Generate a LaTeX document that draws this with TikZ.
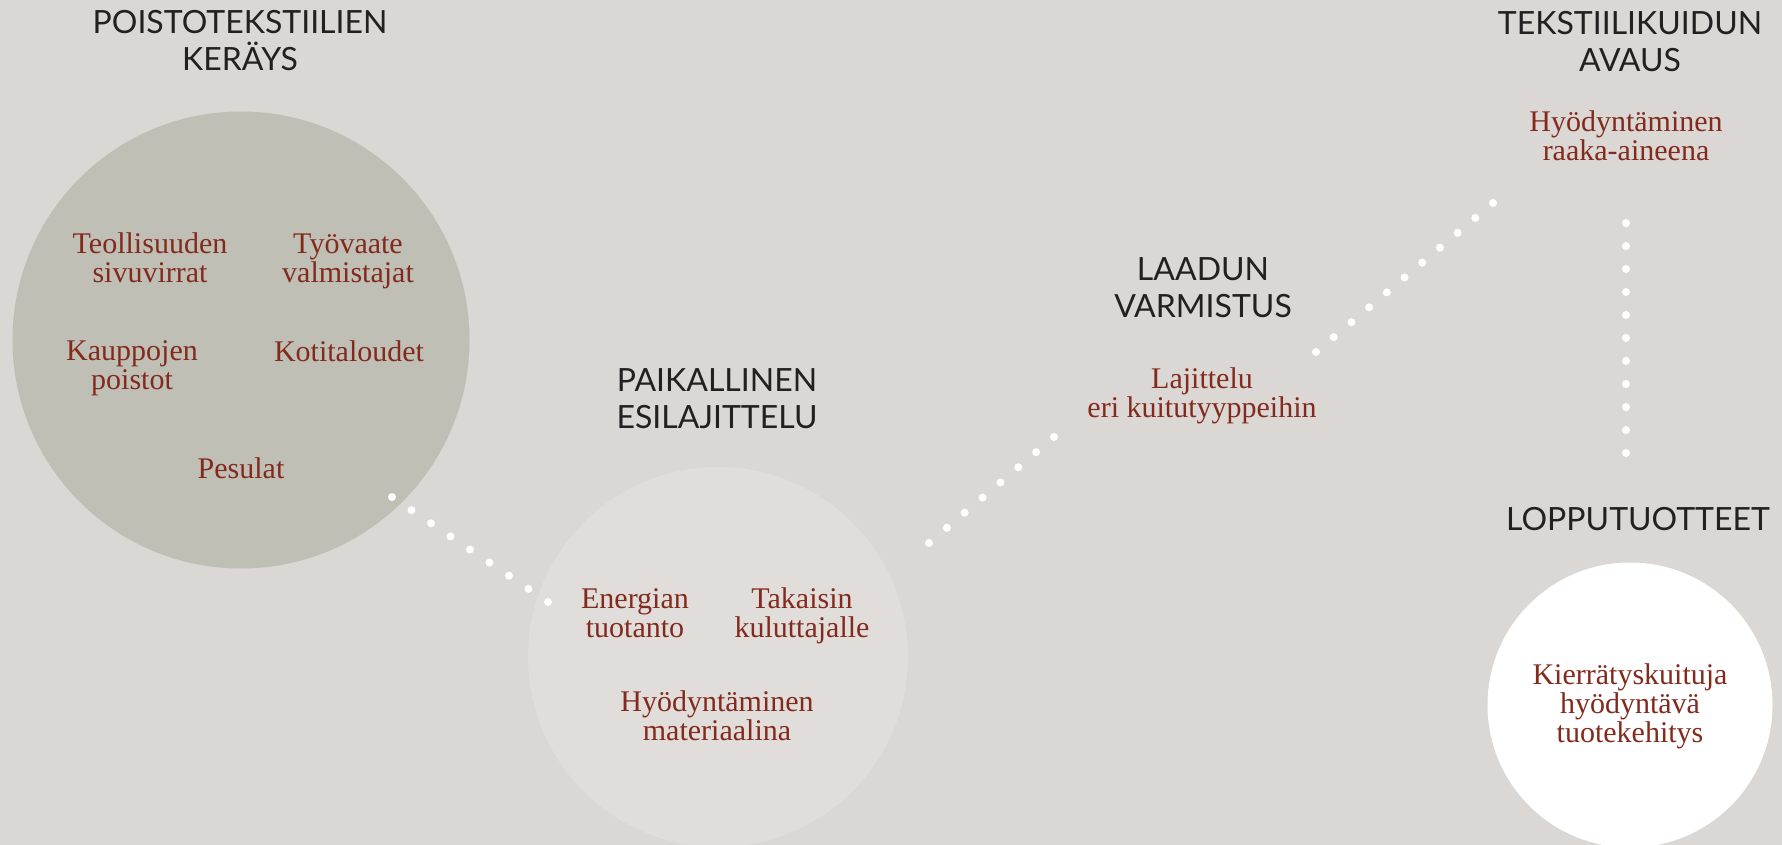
\documentclass[tikz,border=0pt]{standalone}
\usepackage{fontspec}
\setmainfont{Liberation Serif}
\newfontfamily\titlefont{Lato}
\usepackage{tikz}
\usetikzlibrary{calc}

\definecolor{bgcol}{HTML}{DAD7D4}
\definecolor{sagecol}{HTML}{BFBFB6}
\definecolor{palecol}{HTML}{E0DDDA}
\definecolor{titlecol}{HTML}{222020}
\definecolor{itemcol}{HTML}{832A1D}

\tikzset{
  stagetitle/.style={font=\titlefont\fontsize{16}{18.5}\selectfont, text=titlecol, align=center, anchor=base, inner sep=0pt},
  flowitem/.style={font=\fontsize{15}{14.5}\selectfont, text=itemcol, align=center, anchor=base, inner sep=0pt},
  bubble/.style={circle, inner sep=0pt, draw=none},
  dot/.style={fill=white}
}

\begin{document}
\begin{tikzpicture}[x=0.5pt, y=-0.5pt]
  \fill[bgcol] (0,0) rectangle (1782,845);
  \useasboundingbox (0,0) rectangle (1782,845);

  % circles
  \node[bubble, fill=sagecol, minimum size=228.5pt] (keruu) at (241,340) {};
  \node[bubble, fill=palecol, minimum size=190pt] (esilaj) at (718,657) {};
  \node[bubble, fill=white, minimum size=142.5pt] (loppu) at (1630,705) {};

  % stage titles (placed at last baseline)
  \node[stagetitle] (t-keruu)  at (240,71)   {POISTOTEKSTIILIEN\\KERÄYS};
  \node[stagetitle] (t-esilaj) at (717,428)  {PAIKALLINEN\\ESILAJITTELU};
  \node[stagetitle] (t-laatu)  at (1203,317) {LAADUN\\VARMISTUS};
  \node[stagetitle] (t-avaus)  at (1630,72)  {TEKSTIILIKUIDUN\\AVAUS};
  \node[stagetitle] (t-loppu)  at (1638,530) {LOPPUTUOTTEET};

  % items
  \node[flowitem] (teoll)  at (150,283)  {Teollisuuden\\sivuvirrat};
  \node[flowitem] (tyov)   at (348,283)  {Työvaate\\valmistajat};
  \node[flowitem] (kaupp)  at (132,389)  {Kauppojen\\poistot};
  \node[flowitem] (koti)   at (349,361)  {Kotitaloudet};
  \node[flowitem] (pesu)   at (241,478)  {Pesulat};
  \node[flowitem] (energ)  at (635,637)  {Energian\\tuotanto};
  \node[flowitem] (takais) at (802,637)  {Takaisin\\kuluttajalle};
  \node[flowitem] (mater)  at (717,740)  {Hyödyntäminen\\materiaalina};
  \node[flowitem] (lajit)  at (1202,417) {Lajittelu\\eri kuitutyyppeihin};
  \node[flowitem] (raaka)  at (1626,161) {Hyödyntäminen\\raaka-aineena};
  \node[flowitem] (kierr)  at (1630,742) {Kierrätyskuituja\\hyödyntävä\\tuotekehitys};

  % dotted links
  \coordinate (d1a) at (392,497);  \coordinate (d1b) at (548,602);
  \coordinate (d2a) at (929,543);  \coordinate (d2b) at (1054,437);
  \coordinate (d3a) at (1316,352); \coordinate (d3b) at (1493,203);
  \coordinate (d4a) at (1626,223); \coordinate (d4b) at (1626,453);
  \foreach \i in {0,...,8}  \fill[dot] ($(d1a)!\i/8!(d1b)$) circle (2pt);
  \foreach \i in {0,...,7}  \fill[dot] ($(d2a)!\i/7!(d2b)$) circle (2pt);
  \foreach \i in {0,...,10} \fill[dot] ($(d3a)!\i/10!(d3b)$) circle (2pt);
  \foreach \i in {0,...,10} \fill[dot] ($(d4a)!\i/10!(d4b)$) circle (2pt);
\end{tikzpicture}
\end{document}
